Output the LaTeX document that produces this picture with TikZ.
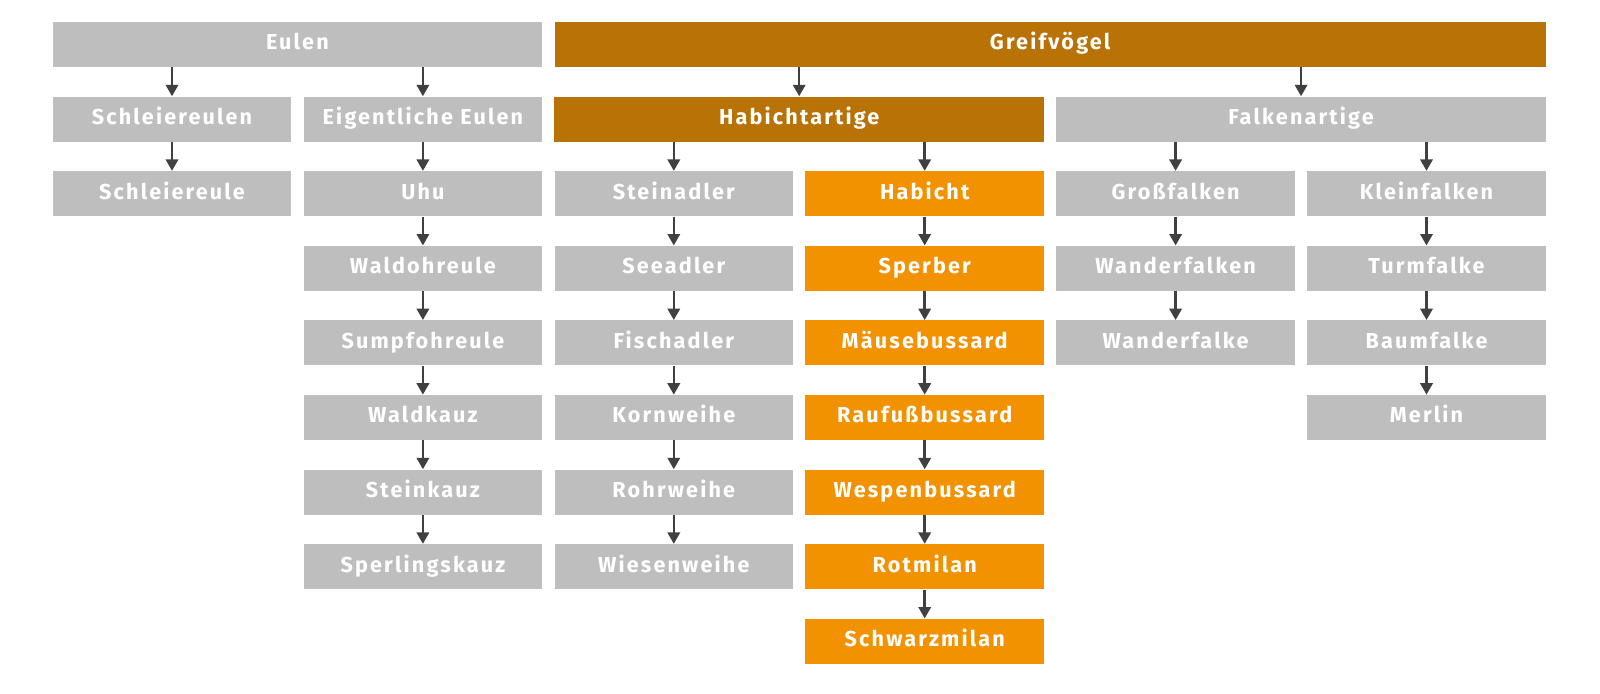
\documentclass[tikz,border=0pt]{standalone}
\usepackage{fontspec}
\setmainfont{Fira Sans}[LetterSpace=10]
\usetikzlibrary{arrows.meta}
\definecolor{grau}{HTML}{BEBEBE}
\definecolor{braun}{HTML}{B87206}
\definecolor{orange}{HTML}{F39200}
\definecolor{pfeilgrau}{HTML}{404040}
\begin{document}
\begin{tikzpicture}[
  box/.style={fill=grau, text=white, font=\bfseries\fontsize{12.3}{14}\selectfont,
    minimum width=4.77cm, minimum height=0.9cm, inner sep=0pt,
    text height=1.6ex, text depth=0.45ex},
  breit/.style={box, minimum width=9.79cm},
  pfeil/.style={draw=pfeilgrau, line width=1.4pt, -{Triangle[width=7pt,length=6.5pt]}}]
\useasboundingbox (0,0) rectangle (32,-13.88);
% Eulen
\node[breit] (eulen) at (5.948,-0.89) {Eulen};
\node[box] (schleiereulen) at (3.44,-2.382) {Schleiereulen};
\node[box] (schleiereule) at (3.44,-3.874) {Schleiereule};
\node[box] (eigentliche) at (8.458,-2.382) {Eigentliche Eulen};
\node[box] (uhu) at (8.458,-3.874) {Uhu};
\node[box] (waldohreule) at (8.458,-5.366) {Waldohreule};
\node[box] (sumpfohreule) at (8.458,-6.858) {Sumpfohreule};
\node[box] (waldkauz) at (8.458,-8.35) {Waldkauz};
\node[box] (steinkauz) at (8.458,-9.842) {Steinkauz};
\node[box] (sperlingskauz) at (8.458,-11.334) {Sperlingskauz};
% Greifvoegel
\node[breit, minimum width=19.826cm, fill=braun] (greif) at (21.003,-0.89) {Greifvögel};
% Habichtartige
\node[breit, fill=braun] (habichtartige) at (15.984,-2.382) {Habichtartige};
\node[box] (steinadler) at (13.476,-3.874) {Steinadler};
\node[box] (seeadler) at (13.476,-5.366) {Seeadler};
\node[box] (fischadler) at (13.476,-6.858) {Fischadler};
\node[box] (kornweihe) at (13.476,-8.35) {Kornweihe};
\node[box] (rohrweihe) at (13.476,-9.842) {Rohrweihe};
\node[box] (wiesenweihe) at (13.476,-11.334) {Wiesenweihe};
\node[box, fill=orange] (habicht) at (18.494,-3.874) {Habicht};
\node[box, fill=orange] (sperber) at (18.494,-5.366) {Sperber};
\node[box, fill=orange] (maeuse) at (18.494,-6.858) {Mäusebussard};
\node[box, fill=orange] (raufuss) at (18.494,-8.35) {Raufußbussard};
\node[box, fill=orange] (wespen) at (18.494,-9.842) {Wespenbussard};
\node[box, fill=orange] (rotmilan) at (18.494,-11.334) {Rotmilan};
\node[box, fill=orange] (schwarzmilan) at (18.494,-12.826) {Schwarzmilan};
% Falkenartige
\node[breit] (falkenartige) at (26.021,-2.382) {Falkenartige};
\node[box] (grossfalken) at (23.512,-3.874) {Großfalken};
\node[box] (wanderfalken) at (23.512,-5.366) {Wanderfalken};
\node[box] (wanderfalke) at (23.512,-6.858) {Wanderfalke};
\node[box] (kleinfalken) at (28.53,-3.874) {Kleinfalken};
\node[box] (turmfalke) at (28.53,-5.366) {Turmfalke};
\node[box] (baumfalke) at (28.53,-6.858) {Baumfalke};
\node[box] (merlin) at (28.53,-8.35) {Merlin};
%%%%%%%%%%%%%%%%
\draw[pfeil] (eulen.south -| schleiereulen.north) -- (schleiereulen.north);
\draw[pfeil] (eulen.south -| eigentliche.north) -- (eigentliche.north);
\draw[pfeil] (schleiereulen.south) -- (schleiereule.north);
\draw[pfeil] (eigentliche.south) -- (uhu.north);
\draw[pfeil] (uhu.south) -- (waldohreule.north);
\draw[pfeil] (waldohreule.south) -- (sumpfohreule.north);
\draw[pfeil] (sumpfohreule.south) -- (waldkauz.north);
\draw[pfeil] (waldkauz.south) -- (steinkauz.north);
\draw[pfeil] (steinkauz.south) -- (sperlingskauz.north);
\draw[pfeil] (greif.south -| habichtartige.north) -- (habichtartige.north);
\draw[pfeil] (greif.south -| falkenartige.north) -- (falkenartige.north);
\draw[pfeil] (habichtartige.south -| steinadler.north) -- (steinadler.north);
\draw[pfeil] (habichtartige.south -| habicht.north) -- (habicht.north);
\draw[pfeil] (steinadler.south) -- (seeadler.north);
\draw[pfeil] (seeadler.south) -- (fischadler.north);
\draw[pfeil] (fischadler.south) -- (kornweihe.north);
\draw[pfeil] (kornweihe.south) -- (rohrweihe.north);
\draw[pfeil] (rohrweihe.south) -- (wiesenweihe.north);
\draw[pfeil] (habicht.south) -- (sperber.north);
\draw[pfeil] (sperber.south) -- (maeuse.north);
\draw[pfeil] (maeuse.south) -- (raufuss.north);
\draw[pfeil] (raufuss.south) -- (wespen.north);
\draw[pfeil] (wespen.south) -- (rotmilan.north);
\draw[pfeil] (rotmilan.south) -- (schwarzmilan.north);
\draw[pfeil] (falkenartige.south -| grossfalken.north) -- (grossfalken.north);
\draw[pfeil] (falkenartige.south -| kleinfalken.north) -- (kleinfalken.north);
\draw[pfeil] (grossfalken.south) -- (wanderfalken.north);
\draw[pfeil] (wanderfalken.south) -- (wanderfalke.north);
\draw[pfeil] (kleinfalken.south) -- (turmfalke.north);
\draw[pfeil] (turmfalke.south) -- (baumfalke.north);
\draw[pfeil] (baumfalke.south) -- (merlin.north);
\end{tikzpicture}
\end{document}
